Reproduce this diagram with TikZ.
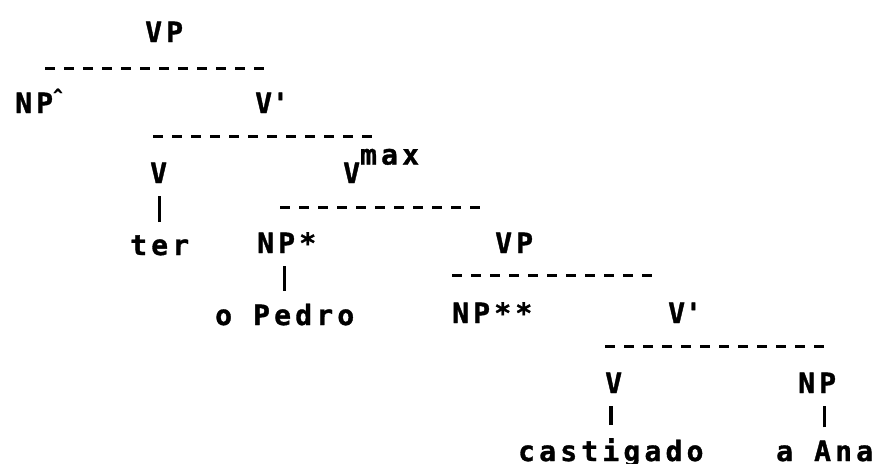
\documentclass[tikz,border=0pt]{standalone}
\usepackage{fontspec}
\newfontfamily\treefont{DejaVu Sans Mono Bold}[LetterSpace=15, FakeBold=1.2]
\tikzset{
  word/.style={anchor=base west, inner sep=0pt, font=\treefont\fontsize{28}{32}\selectfont},
  dashbar/.style={line width=3pt, dash pattern=on 10pt off 9pt},
  bar/.style={line width=3.5pt, shorten <=13pt, shorten >=13pt}
}
\newcommand\smallcaret{\raisebox{0.45em}{\fontsize{16}{16}\selectfont\textasciicircum}}
\begin{document}
\begin{tikzpicture}[x=1pt,y=-1pt]
\useasboundingbox (0,0) rectangle (880,463);
% labels, placed at their baselines
\node[word] (vp1) at (145,42) {VP};
\node[word] (np1) at (15,113) {NP\smallcaret};
\node[word] (vbar1) at (255,113) {V\textquotesingle};
\node[word] (v1) at (150,183) {V};
\node[word] (vmax) at (343,183) {V\raisebox{0.66em}{max}};
\node[word] (ter) at (130,255) {ter};
\node[word] (np2) at (257,253) {NP*};
\node[word] (vp2) at (495,253) {VP};
\node[word] (pedro) at (215,325) {o Pedro};
\node[word] (np3) at (452,323) {NP**};
\node[word] (vbar2) at (668,323) {V\textquotesingle};
\node[word] (v2) at (605,393) {V};
\node[word] (np4) at (798,393) {NP};
\node[word] (cast) at (518,461) {castigado};
\node[word] (ana) at (776,461) {a Ana};
% dashed branchings
\draw[dashbar] (45,68) -- (273,68);
\draw[dashbar] (153,136) -- (380,136);
\draw[dashbar] (280,207) -- (487,207);
\draw[dashbar] (452,275) -- (657,275);
\draw[dashbar] (605,346) -- (828,346);
% unary branches
\draw[bar] (ter.north) -- (ter.north |- v1.south);
\draw[bar] (pedro.north) -- (pedro.north |- np2.south);
\draw[bar] (cast.north) -- (cast.north |- v2.south);
\draw[bar] (ana.north) -- (ana.north |- np4.south);
\end{tikzpicture}
\end{document}
